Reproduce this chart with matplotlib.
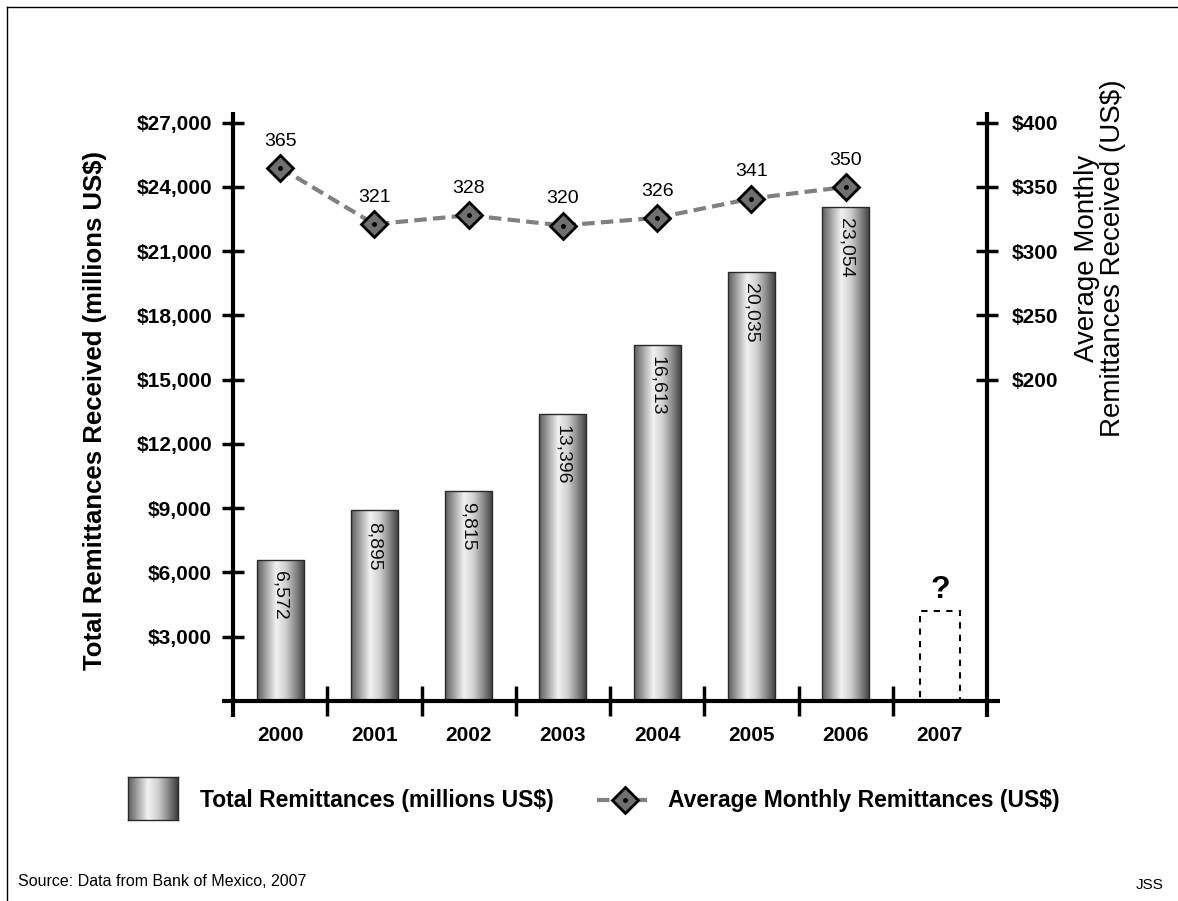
import numpy as np
import matplotlib.pyplot as plt
from matplotlib.colors import LinearSegmentedColormap
from matplotlib.lines import Line2D

plt.rcParams['font.family'] = ['Liberation Sans', 'DejaVu Sans']

# --- Data ---
years = ['2000', '2001', '2002', '2003', '2004', '2005', '2006', '2007']
total_remit = [6572, 8895, 9815, 13396, 16613, 20035, 23054]   # millions US$
avg_monthly = [365, 321, 328, 320, 326, 341, 350]               # US$
unknown_2007 = 4200                                              # dashed placeholder bar

left_ticks = [3000, 6000, 9000, 12000, 15000, 18000, 21000, 24000, 27000]
right_ticks = [200, 250, 300, 350, 400]

W, H = 1178, 901

# cylinder-like shading for the bars
bar_cmap = LinearSegmentedColormap.from_list(
    'cyl', ['#5c5c5c', '#a8a8a8', '#f2f2f2', '#d0d0d0', '#8a8a8a', '#3c3c3c'])
grad = np.linspace(0, 1, 256).reshape(1, -1)


def px(x, y):
    """pixel position (from top-left) -> figure fraction"""
    return x / W, 1 - y / H


fig = plt.figure(figsize=(W / 100, H / 100), dpi=100)
ax = fig.add_axes([233 / W, 1 - 701 / H, 754 / W, 589 / H])
ax2 = ax.twinx()

x = np.arange(len(years))

# --- Bars with gradient fill ---
bars = ax.bar(x[:7], total_remit, width=0.5, facecolor='none',
              edgecolor='#2a2a2a', linewidth=1, zorder=3)
for b in bars:
    x0, w, h = b.get_x(), b.get_width(), b.get_height()
    im = ax.imshow(grad, cmap=bar_cmap, extent=[x0, x0 + w, 0, h],
                   aspect='auto', zorder=2, interpolation='bicubic')
    im.set_clip_path(b)
ax.set_xlim(-0.5, 7.5)
ax.set_ylim(0, 27500)
ax2.set_ylim(-50, 400 + 500 / 3000 * 50)

for xi, v in zip(x[:7], total_remit):
    ax.annotate(f'{v:,}', (xi, v), xytext=(0, -8), textcoords='offset points',
                rotation=-90, ha='center', va='top', fontsize=14, color='#111111',
                zorder=4)

# 2007 placeholder
ax.bar(x[7], unknown_2007, width=0.42, fill=False, edgecolor='black',
       linestyle=(0, (3, 3)), linewidth=1.5, zorder=3)
ax.annotate('?', (x[7], unknown_2007), xytext=(0, 4), textcoords='offset points',
            ha='center', va='bottom', fontsize=23, fontweight='bold')

# --- Line on secondary axis ---
ax2.plot(x[:7], avg_monthly, linestyle=(0, (3, 1.5)), color='#808080', linewidth=3,
         marker='D', markersize=13, markerfacecolor='#6f6f6f',
         markeredgecolor='black', markeredgewidth=2, zorder=5)
ax2.plot(x[:7], avg_monthly, linestyle='none', marker='o', markersize=2.5,
         color='black', zorder=6)
for xi, v in zip(x[:7], avg_monthly):
    ax2.annotate(str(v), (xi, v), xytext=(0, 13), textcoords='offset points',
                 ha='center', va='bottom', fontsize=14)

# --- Axes styling: hand-drawn spines ---
for a in (ax, ax2):
    for s in a.spines.values():
        s.set_visible(False)
spine_kw = dict(transform=ax.transAxes, clip_on=False, color='black',
                linewidth=3, solid_capstyle='butt', zorder=7)
ax.add_line(Line2D([0, 0], [-0.027, 1], **spine_kw))
ax.add_line(Line2D([1, 1], [-0.027, 1], **spine_kw))
ax.add_line(Line2D([-0.015, 1.017], [0, 0], **spine_kw))

ax.set_yticks(left_ticks, [f'${v:,}' for v in left_ticks],
              fontweight='bold', fontsize=15)
ax.tick_params(axis='y', direction='inout', length=16, width=2.5, pad=7)

ax.set_xticks(x, years, fontweight='bold', fontsize=15)
ax.set_xticks(x[:-1] + 0.5, minor=True)
ax.tick_params(axis='x', which='major', length=0, pad=18)
ax.tick_params(axis='x', which='minor', direction='inout', length=22, width=2.5)

ax2.set_yticks(right_ticks, [f'${v}' for v in right_ticks],
               fontweight='bold', fontsize=15)
ax2.tick_params(axis='y', direction='inout', length=16, width=2.5, pad=10)

# --- Axis titles ---
fig.text(*px(95, 410), 'Total Remittances Received (millions US$)', rotation=90,
         ha='center', va='center', fontsize=18.5, fontweight='bold')
fig.text(*px(1100, 258), 'Average Monthly\nRemittances Received (US$)', rotation=90,
         ha='center', va='center', fontsize=20, linespacing=1.0)

# --- Legend (drawn manually) ---
lax = fig.add_axes([128 / W, 1 - 820 / H, 50 / W, 43 / H])
lax.imshow(grad, cmap=bar_cmap, aspect='auto', interpolation='bicubic')
lax.set_xticks([])
lax.set_yticks([])
for s in lax.spines.values():
    s.set_color('#2a2a2a')
    s.set_linewidth(1)
fig.text(*px(200, 801), 'Total Remittances (millions US$)', ha='left', va='center',
         fontsize=16.5, fontweight='bold')

ly = 1 - 800 / H
fig.add_artist(Line2D([597 / W, 653 / W], [ly, ly], transform=fig.transFigure,
                      linestyle=(0, (3, 1.5)), color='#808080', linewidth=3))
fig.add_artist(Line2D([625 / W], [ly], transform=fig.transFigure, marker='D',
                      markersize=13, markerfacecolor='#6f6f6f',
                      markeredgecolor='black', markeredgewidth=2))
fig.add_artist(Line2D([625 / W], [ly], transform=fig.transFigure, marker='o',
                      markersize=2.5, color='black'))
fig.text(*px(668, 801), 'Average Monthly Remittances (US$)', ha='left', va='center',
         fontsize=16.5, fontweight='bold')

# --- Footer ---
fig.text(*px(18, 882), 'Source: Data from Bank of Mexico, 2007', ha='left',
         va='center', fontsize=11.5)
fig.text(*px(1164, 885), 'JSS', ha='right', va='center', fontsize=11)

# frame around the figure
fig.add_artist(Line2D([7 / W, 7 / W], [0, 1 - 7 / H], transform=fig.transFigure,
                      color='black', linewidth=1))
fig.add_artist(Line2D([7 / W, 1], [1 - 7 / H, 1 - 7 / H], transform=fig.transFigure,
                      color='black', linewidth=1))

fig.savefig('out.png', dpi=100)
